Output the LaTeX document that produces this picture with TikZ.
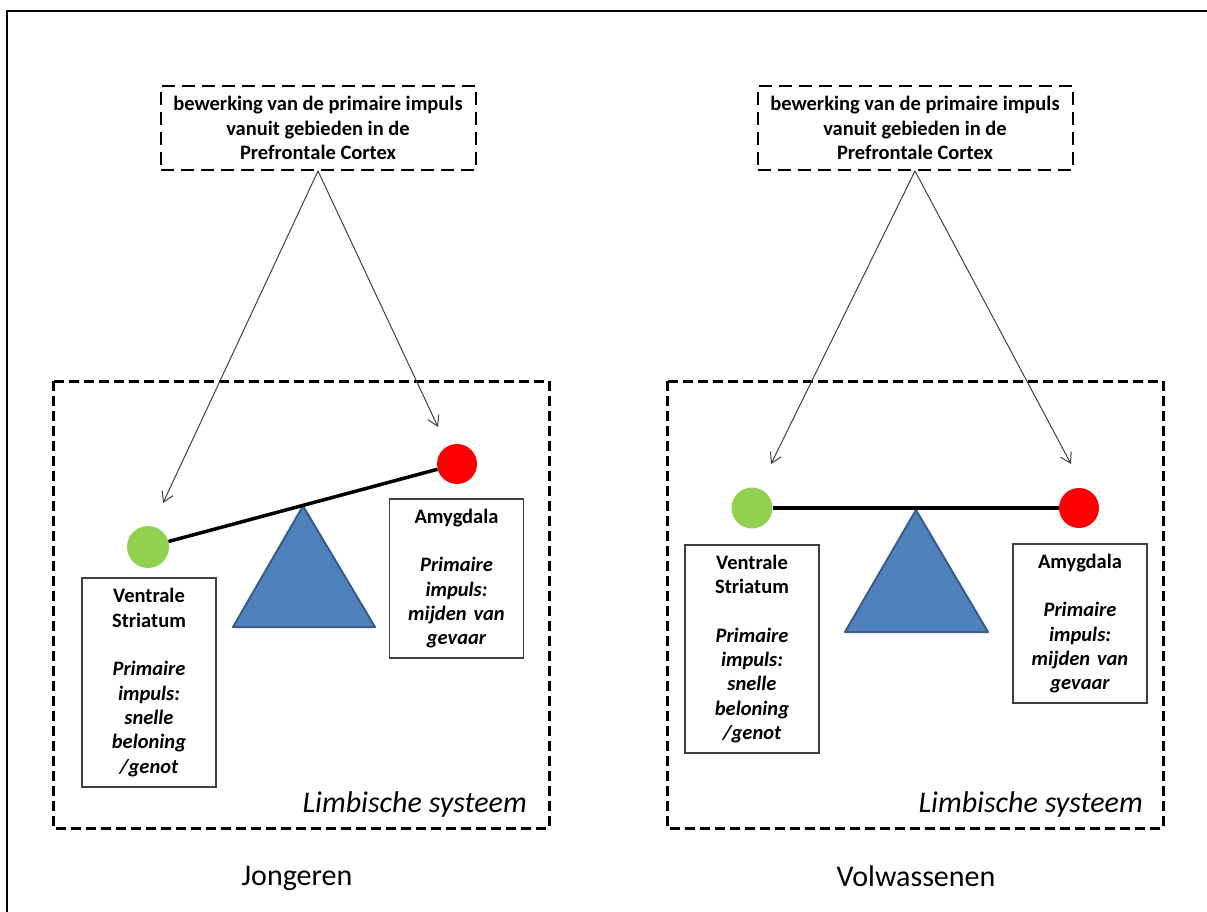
\documentclass[tikz,border=0pt]{standalone}
\usepackage{fontspec}
\setmainfont{Carlito}
\usetikzlibrary{arrows.meta}

\definecolor{vsgreen}{HTML}{92D050}
\definecolor{amred}{HTML}{FF0000}
\definecolor{fulcrumblue}{HTML}{4F81BD}
\definecolor{fulcrumedge}{HTML}{385D8A}
\definecolor{arrowgray}{HTML}{404040}

\tikzset{
	pfcbox/.style={draw, line width=2pt, dash pattern=on 13pt off 7pt, minimum width=315pt, minimum height=84pt, align=center, inner sep=4pt, font=\bfseries\fontsize{20.5}{24.5}\selectfont},
	limbic/.style={line width=3pt, dash pattern=on 10pt off 5pt},
	limbiclabel/.style={inner sep=0pt, font=\itshape\fontsize{30}{32}\selectfont},
	infobox/.style={draw=arrowgray, line width=1.2pt, text width=124pt, inner sep=5pt, align=center, font=\bfseries\fontsize{20.5}{24.3}\selectfont},
	ball/.style={circle, inner sep=0pt, draw=none},
	fulcrum/.style={fill=fulcrumblue, draw=fulcrumedge, line width=2pt, line join=round},
	beam/.style={line width=3.5pt},
	pfcarrow/.style={->, draw=arrowgray, line width=1pt},
	caption/.style={inner sep=0pt, font=\fontsize{30}{32}\selectfont}
}

\begin{document}
\begin{tikzpicture}[x=1pt, y=-1pt, >={Straight Barb[length=10pt,width=12pt]}]
	\useasboundingbox (0,0) rectangle (1207,912);
	\draw[line width=2pt] (7,11) rectangle (1230,940);
	
	% Jongeren
	\node[pfcbox] (pfcL) at (318,128) {bewerking van de primaire impuls\\vanuit gebieden in de\\Prefrontale Cortex};
	\draw[limbic] (53,381) rectangle (549,828);
	\node[limbiclabel, anchor=base east] (limbL) at (527,812) {Limbische systeem};
	
	\draw[fulcrum] (303,506) -- (375,627) -- (233,627) -- cycle;
	\node[ball, fill=vsgreen, minimum size=42pt] (vsL) at (148,547) {};
	\node[ball, fill=amred, minimum size=40pt] (amL) at (457,464) {};
	\draw[beam] (vsL) -- (amL);
	
	\coordinate (vsLtip) at (163,503);
	\coordinate (amLtip) at (438,427);
	\draw[pfcarrow] (pfcL.south) -- (vsLtip);
	\draw[pfcarrow] (pfcL.south) -- (amLtip);
	
	\node[infobox, minimum height=209pt] (vsLtext) at (149,682.5) {Ventrale\\Striatum\\[24.3pt]\itshape Primaire\\impuls:\\snelle\\beloning\\/genot};
	\node[infobox, minimum height=159pt] (amLtext) at (456.5,578.5) {Amygdala\\[24.3pt]\itshape Primaire\\impuls:\\mijden van\\gevaar};
	
	\node[caption, anchor=base] (jong) at (297,885) {Jongeren};
	
	% Volwassenen
	\node[pfcbox] (pfcR) at (915,128) {bewerking van de primaire impuls\\vanuit gebieden in de\\Prefrontale Cortex};
	\draw[limbic] (667,381) rectangle (1163,828);
	\node[limbiclabel, anchor=base east] (limbR) at (1143,812) {Limbische systeem};
	
	\draw[fulcrum] (916,510) -- (988,632) -- (845,632) -- cycle;
	\node[ball, fill=vsgreen, minimum size=41pt] (vsR) at (752,508) {};
	\node[ball, fill=amred, minimum size=40pt] (amR) at (1079,508) {};
	\draw[beam] (vsR) -- (amR);
	
	\coordinate (vsRtip) at (771,464);
	\coordinate (amRtip) at (1071,464);
	\draw[pfcarrow] (pfcR.south) -- (vsRtip);
	\draw[pfcarrow] (pfcR.south) -- (amRtip);
	
	\node[infobox, minimum height=208pt] (vsRtext) at (752,649) {Ventrale\\Striatum\\[24.3pt]\itshape Primaire\\impuls:\\snelle\\beloning\\/genot};
	\node[infobox, minimum height=159pt] (amRtext) at (1080,623.5) {Amygdala\\[24.3pt]\itshape Primaire\\impuls:\\mijden van\\gevaar};
	
	\node[caption, anchor=base] (volw) at (916,886) {Volwassenen};
\end{tikzpicture}
\end{document}
